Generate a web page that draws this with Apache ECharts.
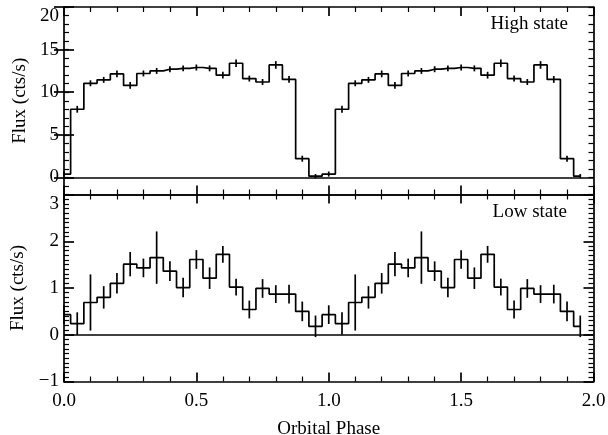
<!DOCTYPE html>
<html>
<head>
<meta charset="utf-8">
<script src="https://cdn.jsdelivr.net/npm/echarts@6/dist/echarts.min.js"></script>
<style>
  html, body { margin: 0; padding: 0; background: #fff; }
  #chart { width: 608px; height: 435px; }
</style>
</head>
<body>
<div id="chart"></div>
<script>
// ---- data ----
const phases = [0.00, 0.05, 0.10, 0.15, 0.20, 0.25, 0.30, 0.35, 0.40, 0.45,
                0.50, 0.55, 0.60, 0.65, 0.70, 0.75, 0.80, 0.85, 0.90, 0.95,
                1.00, 1.05, 1.10, 1.15, 1.20, 1.25, 1.30, 1.35, 1.40, 1.45,
                1.50, 1.55, 1.60, 1.65, 1.70, 1.75, 1.80, 1.85, 1.90, 1.95];

const highFlux = [0.40, 8.00, 11.05, 11.45, 12.15, 10.80, 12.20, 12.50, 12.70, 12.80,
                  12.90, 12.80, 12.00, 13.40, 11.60, 11.20, 13.20, 11.50, 2.20, 0.15,
                  0.40, 8.00, 11.05, 11.45, 12.15, 10.80, 12.20, 12.50, 12.70, 12.80,
                  12.90, 12.80, 12.00, 13.40, 11.60, 11.20, 13.20, 11.50, 2.20, 0.15];
const highErr  = [0.30, 0.40, 0.35, 0.35, 0.40, 0.40, 0.35, 0.35, 0.35, 0.35,
                  0.35, 0.35, 0.40, 0.45, 0.35, 0.35, 0.45, 0.40, 0.35, 0.25,
                  0.30, 0.40, 0.35, 0.35, 0.40, 0.40, 0.35, 0.35, 0.35, 0.35,
                  0.35, 0.35, 0.40, 0.45, 0.35, 0.35, 0.45, 0.40, 0.35, 0.25];

const lowFlux = [0.43, 0.24, 0.69, 0.80, 1.10, 1.51, 1.43, 1.65, 1.36, 1.01,
                 1.61, 1.21, 1.72, 1.02, 0.54, 0.99, 0.87, 0.87, 0.50, 0.18,
                 0.43, 0.24, 0.69, 0.80, 1.10, 1.51, 1.43, 1.65, 1.36, 1.01,
                 1.61, 1.21, 1.72, 1.02, 0.54, 0.99, 0.87, 0.87, 0.50, 0.18];
const lowErr  = [0.20, 0.24, 0.60, 0.24, 0.22, 0.26, 0.20, 0.56, 0.21, 0.21,
                 0.20, 0.23, 0.18, 0.18, 0.19, 0.20, 0.19, 0.20, 0.21, 0.23,
                 0.20, 0.24, 0.60, 0.24, 0.22, 0.26, 0.20, 0.56, 0.21, 0.21,
                 0.20, 0.23, 0.18, 0.18, 0.19, 0.20, 0.19, 0.20, 0.21, 0.23];

const highTicks = [0, 5, 10, 15, 20];

const panelLabels = ['High state', 'Low state'];
const yTitle = 'Flux (cts/s)';
const xTitle = 'Orbital Phase';

// ---- styling ----
const FONT = 'Liberation Serif';
const LW = 1.7;
const black = '#000';

function pairs(xs, ys) { return xs.map((x, i) => [x, ys[i]]); }
function triples(xs, ys, es) { return xs.map((x, i) => [x, ys[i], es[i]]); }

function errRender(params, api) {
  const x = api.value(0), y = api.value(1), e = api.value(2);
  const p1 = api.coord([x, y - e]);
  const p2 = api.coord([x, y + e]);
  return {
    type: 'line',
    shape: { x1: p1[0], y1: p1[1], x2: p2[0], y2: p2[1] },
    style: { stroke: black, lineWidth: LW }
  };
}

const labelStyle = { color: black, fontSize: 19, fontFamily: FONT };

function xAx(gridIndex, position, showLabel) {
  const ax = {
    type: 'value', gridIndex, position,
    min: 0, max: 2, interval: 0.5,
    axisLine: { show: true, onZero: false, lineStyle: { color: black, width: LW } },
    axisTick: { show: true, inside: true, length: 9, lineStyle: { color: black, width: LW } },
    minorTick: { show: true, splitNumber: 5, length: 5, lineStyle: { color: black, width: 1.2 } },
    splitLine: { show: false },
    axisLabel: { show: showLabel, ...labelStyle, margin: 10,
                 formatter: v => v.toFixed(1) }
  };
  if (showLabel) {
    ax.name = xTitle;
    ax.nameLocation = 'middle';
    ax.nameGap = 38;
    ax.nameTextStyle = { ...labelStyle };
  }
  return ax;
}

const option = {
  backgroundColor: '#fff',
  animation: false,
  grid: [
    { left: 64, right: 14.5, top: 7, height: 187.5, outerBoundsMode: 'none', containLabel: false },
    { left: 64, right: 14.5, top: 194.5, height: 187, outerBoundsMode: 'none', containLabel: false }
  ],
  xAxis: [
    xAx(0, 'bottom', false),
    xAx(0, 'top', false),
    xAx(1, 'bottom', true),
    xAx(1, 'top', false)
  ],
  yAxis: [
    // 0: top panel, left, minor ticks (data axis)
    { type: 'value', gridIndex: 0, position: 'left', min: -2, max: 20, interval: 1,
      axisLine: { show: true, onZero: false, lineStyle: { color: black, width: LW } },
      axisTick: { show: true, inside: true, length: 5, lineStyle: { color: black, width: 1.2 } },
      axisLabel: { show: false }, splitLine: { show: false } },
    // 1: top panel, left, major ticks + labels
    { type: 'value', gridIndex: 0, position: 'left', min: -2, max: 20, splitNumber: 4,
      axisLine: { show: false },
      axisTick: { show: true, inside: true, length: 10, customValues: highTicks,
                  lineStyle: { color: black, width: LW } },
      axisLabel: { show: true, ...labelStyle, margin: 5, customValues: highTicks,
                   verticalAlignMaxLabel: 'top',
                   formatter: v => (v < 0 ? '' : String(v)) },
      splitLine: { show: false },
      name: yTitle, nameLocation: 'middle', nameRotate: 90, nameGap: 34,
      nameTextStyle: { ...labelStyle } },
    // 2: top panel, right, minor
    { type: 'value', gridIndex: 0, position: 'right', min: -2, max: 20, interval: 1,
      axisLine: { show: true, onZero: false, lineStyle: { color: black, width: LW } },
      axisTick: { show: true, inside: true, length: 5, lineStyle: { color: black, width: 1.2 } },
      axisLabel: { show: false }, splitLine: { show: false } },
    // 3: top panel, right, major
    { type: 'value', gridIndex: 0, position: 'right', min: -2, max: 20, splitNumber: 4,
      axisLine: { show: false },
      axisTick: { show: true, inside: true, length: 10, customValues: highTicks,
                  lineStyle: { color: black, width: LW } },
      axisLabel: { show: false }, splitLine: { show: false } },
    // 4: bottom panel, left
    { type: 'value', gridIndex: 1, position: 'left', min: -1, max: 3, interval: 1,
      axisLine: { show: true, onZero: false, lineStyle: { color: black, width: LW } },
      axisTick: { show: true, inside: true, length: 10, lineStyle: { color: black, width: LW } },
      minorTick: { show: true, splitNumber: 10, length: 5, lineStyle: { color: black, width: 1.2 } },
      axisLabel: { show: true, ...labelStyle, margin: 5,
                   verticalAlignMaxLabel: 'top',
                   formatter: v => (v < 0 ? '\u2212' + Math.abs(v) : String(v)) },
      splitLine: { show: false },
      name: yTitle, nameLocation: 'middle', nameRotate: 90, nameGap: 34,
      nameTextStyle: { ...labelStyle } },
    // 5: bottom panel, right
    { type: 'value', gridIndex: 1, position: 'right', min: -1, max: 3, interval: 1,
      axisLine: { show: true, onZero: false, lineStyle: { color: black, width: LW } },
      axisTick: { show: true, inside: true, length: 10, lineStyle: { color: black, width: LW } },
      minorTick: { show: true, splitNumber: 10, length: 5, lineStyle: { color: black, width: 1.2 } },
      axisLabel: { show: false }, splitLine: { show: false } }
  ],
  graphic: [
    { type: 'text', right: 40, top: 15,
      style: { text: panelLabels[0], fill: black, font: '19px "Liberation Serif"' } },
    { type: 'text', right: 41, top: 203,
      style: { text: panelLabels[1], fill: black, font: '19px "Liberation Serif"' } }
  ],
  series: [
    { type: 'line', xAxisIndex: 0, yAxisIndex: 0, step: 'middle', symbol: 'none',
      data: pairs(phases, highFlux),
      lineStyle: { color: black, width: LW },
      markLine: { silent: true, symbol: 'none', label: { show: false },
                  lineStyle: { color: black, width: LW, type: 'solid' },
                  data: [{ yAxis: 0 }] } },
    { type: 'custom', xAxisIndex: 0, yAxisIndex: 0, renderItem: errRender,
      data: triples(phases, highFlux, highErr) },
    { type: 'line', xAxisIndex: 2, yAxisIndex: 4, step: 'middle', symbol: 'none',
      data: pairs(phases, lowFlux),
      lineStyle: { color: black, width: LW },
      markLine: { silent: true, symbol: 'none', label: { show: false },
                  lineStyle: { color: black, width: LW, type: 'solid' },
                  data: [{ yAxis: 0 }] } },
    { type: 'custom', xAxisIndex: 2, yAxisIndex: 4, renderItem: errRender,
      data: triples(phases, lowFlux, lowErr) }
  ]
};

const chart = echarts.init(document.getElementById('chart'), null, { renderer: 'canvas' });
chart.setOption(option);
</script>
</body>
</html>
